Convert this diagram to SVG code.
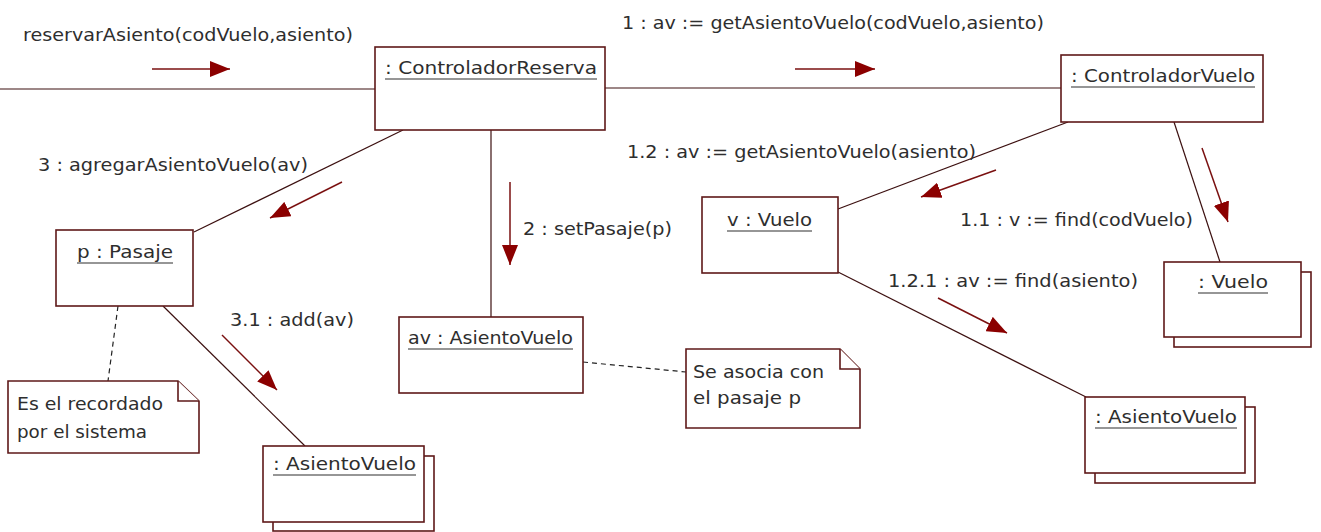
<svg xmlns="http://www.w3.org/2000/svg" width="1321" height="532" viewBox="0 0 1321 532">
<style>
text{font-family:"DejaVu Sans","Liberation Sans",sans-serif;font-size:17px;fill:#2e2e2e}
.box{fill:#fff;stroke:#5e1818;stroke-width:1.6}
.ul{stroke:#2e2e2e;stroke-width:1.2}
.link{fill:none;stroke:#3c1010;stroke-width:1.2}
.msg{fill:none;stroke:#7a1010;stroke-width:1.5}
.dash{fill:none;stroke:#222;stroke-width:1.2;stroke-dasharray:5,4}
.note{fill:#fff;stroke:#5e1818;stroke-width:1.6}
</style>
<defs>
<marker id="ah" viewBox="0 0 20 16" refX="20" refY="8" markerWidth="20" markerHeight="16" markerUnits="userSpaceOnUse" orient="auto">
<path d="M0,0 L20,8 L0,16 Z" fill="#8b0000"/>
</marker>
</defs>
<rect width="1321" height="532" fill="#fff"/>
<g id="connectors">
<line class="link" x1="0" y1="89" x2="375" y2="89"/>
<line class="link" x1="605" y1="88" x2="1061" y2="88"/>
<line class="link" x1="403" y1="130" x2="194" y2="232"/>
<line class="link" x1="491" y1="130" x2="491" y2="317"/>
<line class="link" x1="1068" y1="122" x2="838" y2="209"/>
<line class="link" x1="1174" y1="122" x2="1220" y2="262"/>
<line class="link" x1="838" y1="272" x2="1086" y2="397"/>
<line class="link" x1="163" y1="306" x2="305" y2="446"/>
<line class="dash" x1="118" y1="306" x2="108" y2="381"/>
<line class="dash" x1="583" y1="362" x2="686" y2="372"/>
<line class="msg" x1="152" y1="69" x2="230" y2="69" marker-end="url(#ah)"/>
<line class="msg" x1="795" y1="69" x2="875" y2="69" marker-end="url(#ah)"/>
<line class="msg" x1="342" y1="182" x2="270" y2="218" marker-end="url(#ah)"/>
<line class="msg" x1="510" y1="182" x2="510" y2="265" marker-end="url(#ah)"/>
<line class="msg" x1="996" y1="170" x2="921" y2="197" marker-end="url(#ah)"/>
<line class="msg" x1="1202" y1="148" x2="1228" y2="222" marker-end="url(#ah)"/>
<line class="msg" x1="938" y1="298" x2="1007" y2="333" marker-end="url(#ah)"/>
<line class="msg" x1="222" y1="335" x2="277" y2="390" marker-end="url(#ah)"/>
<text x="23" y="41" textLength="330" lengthAdjust="spacingAndGlyphs">reservarAsiento(codVuelo,asiento)</text>
<text x="622" y="29" textLength="422" lengthAdjust="spacingAndGlyphs">1 : av := getAsientoVuelo(codVuelo,asiento)</text>
<text x="38" y="171" textLength="270" lengthAdjust="spacingAndGlyphs">3 : agregarAsientoVuelo(av)</text>
<text x="523" y="235" textLength="149" lengthAdjust="spacingAndGlyphs">2 : setPasaje(p)</text>
<text x="627" y="158" textLength="349" lengthAdjust="spacingAndGlyphs">1.2 : av := getAsientoVuelo(asiento)</text>
<text x="960" y="226" textLength="233" lengthAdjust="spacingAndGlyphs">1.1 : v := find(codVuelo)</text>
<text x="888" y="287" textLength="250" lengthAdjust="spacingAndGlyphs">1.2.1 : av := find(asiento)</text>
<text x="230" y="326" textLength="124" lengthAdjust="spacingAndGlyphs">3.1 : add(av)</text>
</g>
<g id="controladorReserva">
<rect class="box" x="375" y="47" width="230" height="83"/>
<text x="385" y="74" textLength="212" lengthAdjust="spacingAndGlyphs">: ControladorReserva</text>
<line class="ul" x1="385" y1="79" x2="597" y2="79"/>
</g>
<g id="controladorVuelo">
<rect class="box" x="1061" y="55" width="202" height="67"/>
<text x="1071" y="82" textLength="184" lengthAdjust="spacingAndGlyphs">: ControladorVuelo</text>
<line class="ul" x1="1071" y1="87" x2="1255" y2="87"/>
</g>
<g id="pasaje">
<rect class="box" x="56" y="230" width="137" height="76"/>
<text x="77" y="258" textLength="96" lengthAdjust="spacingAndGlyphs">p : Pasaje</text>
<line class="ul" x1="77" y1="263" x2="173" y2="263"/>
</g>
<g id="avAsientoVuelo">
<rect class="box" x="399" y="317" width="184" height="76"/>
<text x="408" y="344" textLength="165" lengthAdjust="spacingAndGlyphs">av : AsientoVuelo</text>
<line class="ul" x1="408" y1="349" x2="573" y2="349"/>
</g>
<g id="vVuelo">
<rect class="box" x="702" y="197" width="136" height="76"/>
<text x="727" y="226" textLength="85" lengthAdjust="spacingAndGlyphs">v : Vuelo</text>
<line class="ul" x1="727" y1="231" x2="812" y2="231"/>
</g>
<g id="vueloMulti">
<rect class="box" x="1174" y="272" width="137" height="75"/>
<rect class="box" x="1164" y="262" width="137" height="75"/>
<text x="1198" y="288" textLength="70" lengthAdjust="spacingAndGlyphs">: Vuelo</text>
<line class="ul" x1="1198" y1="293" x2="1268" y2="293"/>
</g>
<g id="asientoVueloMultiRight">
<rect class="box" x="1095" y="407" width="160" height="76"/>
<rect class="box" x="1085" y="397" width="160" height="76"/>
<text x="1095" y="423" textLength="142" lengthAdjust="spacingAndGlyphs">: AsientoVuelo</text>
<line class="ul" x1="1095" y1="428" x2="1237" y2="428"/>
</g>
<g id="asientoVueloMultiLeft">
<rect class="box" x="273" y="456" width="161" height="75"/>
<rect class="box" x="263" y="446" width="161" height="76"/>
<text x="273" y="470" textLength="143" lengthAdjust="spacingAndGlyphs">: AsientoVuelo</text>
<line class="ul" x1="273" y1="475" x2="416" y2="475"/>
</g>
<g id="note1">
<path class="note" d="M8,381 H178 L199,401 V453 H8 Z"/>
<path class="note" d="M178,381 V401 H199" fill="none"/>
<text x="17" y="410" textLength="146" lengthAdjust="spacingAndGlyphs">Es el recordado</text>
<text x="17" y="438" textLength="130" lengthAdjust="spacingAndGlyphs">por el sistema</text>
</g>
<g id="note2">
<path class="note" d="M686,349 H840 L860,369 V428 H686 Z"/>
<path class="note" d="M840,349 V369 H860" fill="none"/>
<text x="693" y="378" textLength="131" lengthAdjust="spacingAndGlyphs">Se asocia con</text>
<text x="693" y="404" textLength="108" lengthAdjust="spacingAndGlyphs">el pasaje p</text>
</g>
</svg>
